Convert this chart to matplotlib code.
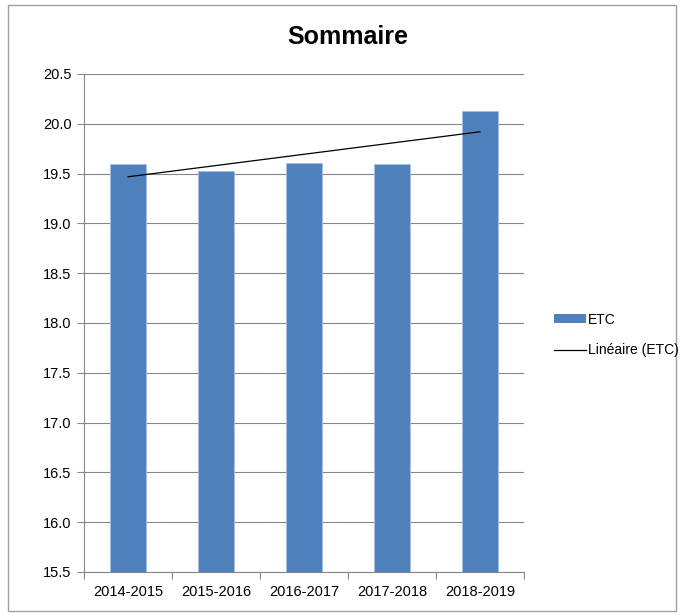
import numpy as np
import matplotlib.pyplot as plt
from matplotlib.patches import Rectangle
from matplotlib.lines import Line2D
from matplotlib.patches import Patch

plt.rcParams['font.family'] = ['Liberation Sans', 'DejaVu Sans']

annees = ['2014-2015', '2015-2016', '2016-2017', '2017-2018', '2018-2019']
etc = [19.60, 19.53, 19.61, 19.60, 20.13]
yticks = [15.5, 16.0, 16.5, 17.0, 17.5, 18.0, 18.5, 19.0, 19.5, 20.0, 20.5]

gris = '#868686'
bleu = '#4F81BD'

fig = plt.figure(figsize=(6.82, 6.15), dpi=100)
ax = fig.add_axes([84 / 682, 1 - 572 / 615, 440 / 682, 498 / 615])

x = np.arange(len(annees))
ax.bar(x, etc, width=0.4, color=bleu, edgecolor='#a7c0de', linewidth=0.6, zorder=3)

# tendance linéaire (ETC)
pente, orig = np.polyfit(x, etc, 1)
ax.plot([x[0], x[-1]], [orig + pente * x[0], orig + pente * x[-1]],
        color='black', linewidth=0.9, zorder=4)

ax.set_ylim(15.5, 20.5)
ax.set_xlim(-0.5, len(annees) - 0.5)
ax.set_yticks(yticks)
ax.set_yticklabels(['%.1f' % v for v in yticks], fontsize=10.5)
ax.set_xticks(x)
ax.set_xticklabels(annees, fontsize=10.5)
ax.set_xticks(np.arange(-0.5, len(annees)), minor=True)
ax.tick_params(axis='x', which='major', length=0, pad=9)
ax.tick_params(axis='x', which='minor', length=5, color=gris, width=0.8)
ax.tick_params(axis='y', length=5, color=gris, width=0.8, pad=4)

ax.yaxis.grid(True, color=gris, linewidth=0.8, zorder=0)
ax.set_axisbelow(True)
for s in ['top', 'right']:
    ax.spines[s].set_visible(False)
for s in ['left', 'bottom']:
    ax.spines[s].set_color(gris)
    ax.spines[s].set_linewidth(0.8)

fig.text(348 / 682, 1 - 37 / 615, 'Sommaire', ha='center', va='center',
         fontsize=18, fontweight='bold')

handles = [Patch(facecolor=bleu, edgecolor='none'),
           Line2D([0], [0], color='black', linewidth=0.9)]
fig.legend(handles, ['ETC', 'Linéaire (ETC)'], loc='center left',
           bbox_to_anchor=(548 / 682, 1 - 335 / 615), frameon=False,
           fontsize=10, handlelength=2.3, handleheight=0.6,
           handletextpad=0.15, labelspacing=1.2, borderaxespad=0)

fig.add_artist(Rectangle((8 / 682, 1 - 611 / 615), 668 / 682, 606 / 615,
                         transform=fig.transFigure, fill=False,
                         edgecolor='#a0a0a0', linewidth=1))

fig.savefig('out.png', dpi=100)
